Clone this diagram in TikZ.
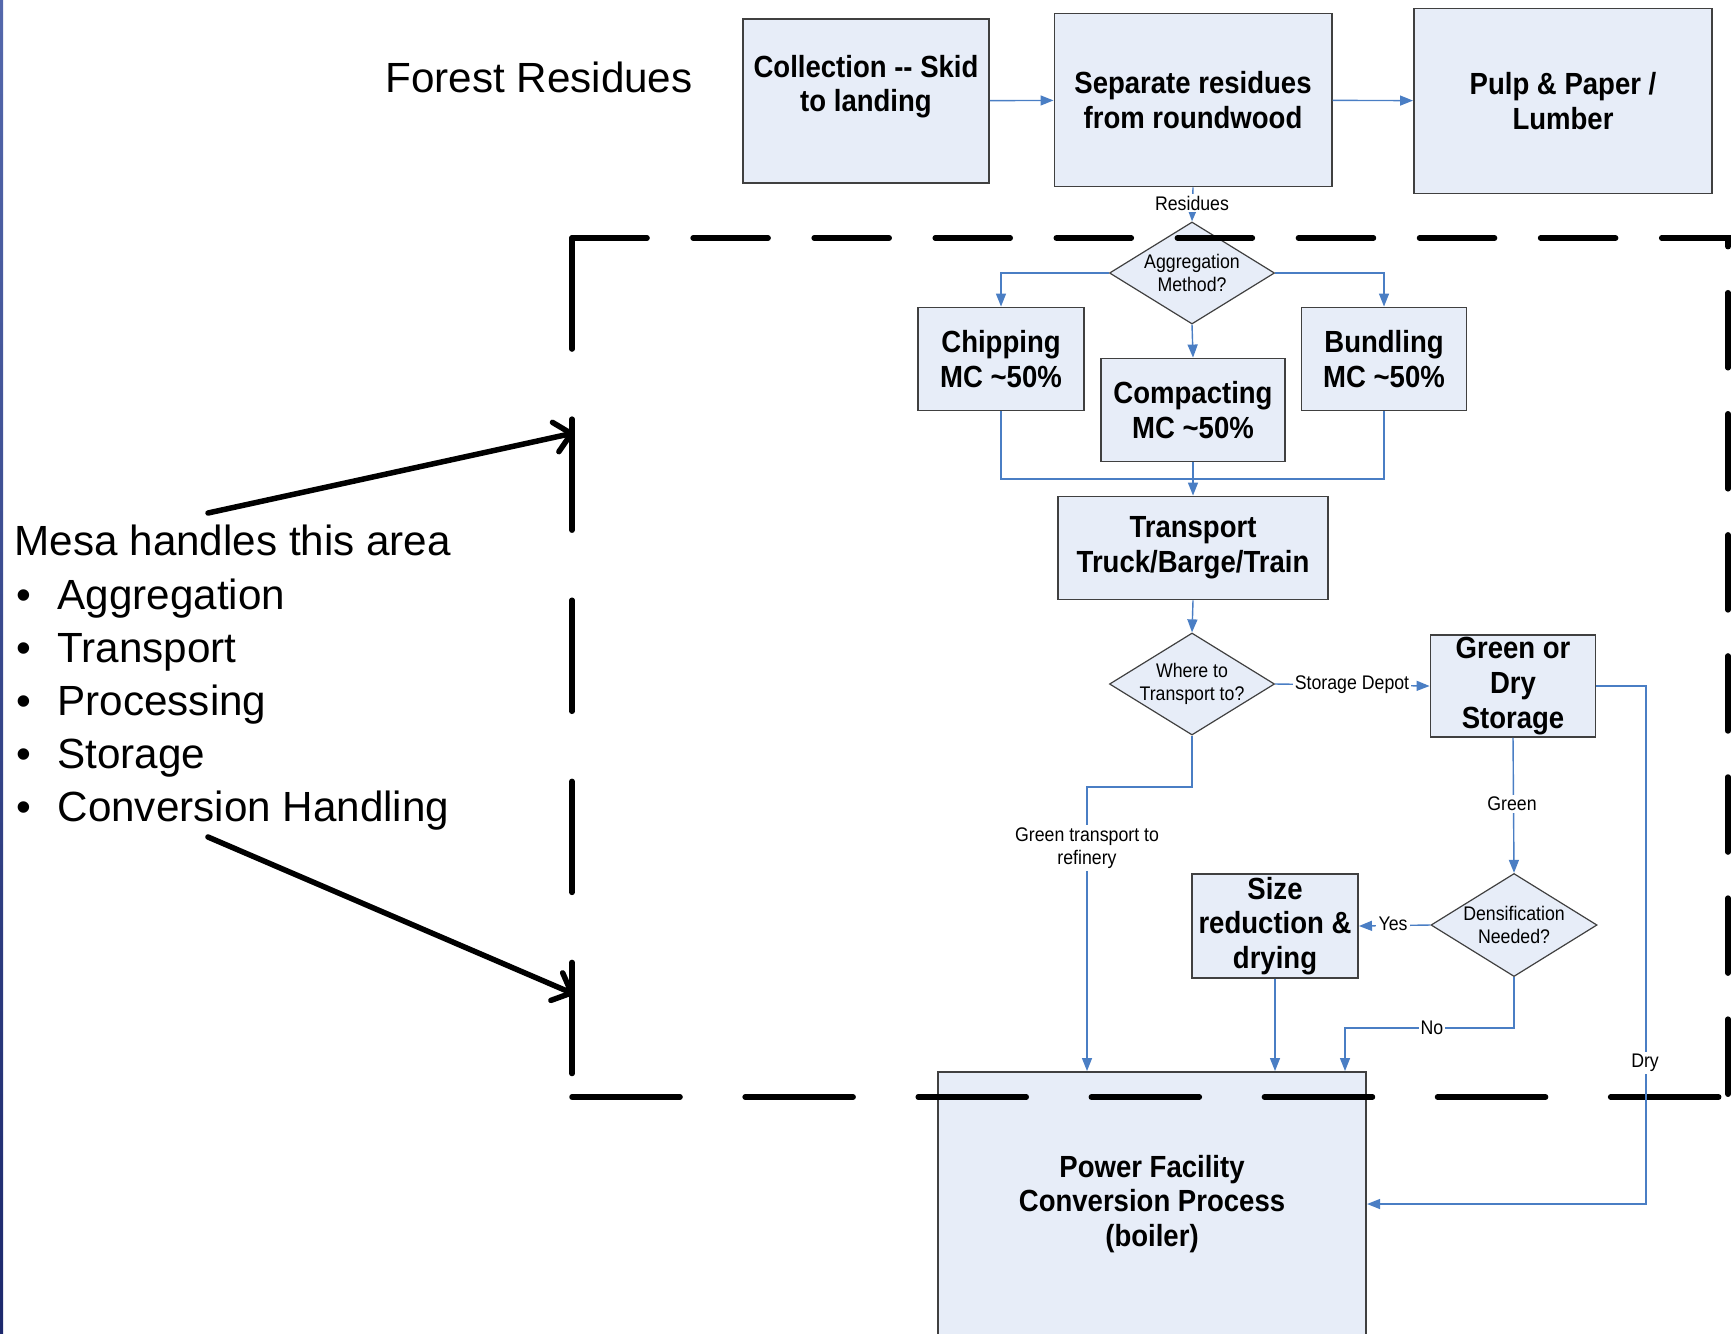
\documentclass[tikz,border=0pt]{standalone}
\usepackage{fontspec}
\setmainfont{Liberation Sans}
\newfontfamily\narrowfont{Liberation Sans}[FakeStretch=0.9]
\usetikzlibrary{shapes.geometric,arrows.meta}

\definecolor{boxfill}{RGB}{231,237,248}
\definecolor{boxline}{RGB}{64,64,64}
\definecolor{flowblue}{RGB}{74,126,196}
\definecolor{striptop}{RGB}{84,104,172}
\definecolor{stripbottom}{RGB}{28,40,108}

\newcommand{\listdot}{\makebox[12.2pt][l]{\hspace{0.6pt}\textbullet}}

\tikzset{
	stepbox/.style={draw=boxline, line width=0.018cm, fill=boxfill, align=center, inner sep=0pt,
		font=\narrowfont\bfseries\fontsize{8.7}{9.9}\selectfont},
	choice/.style={diamond, draw=boxline, line width=0.012cm, fill=boxfill, align=center,
		inner sep=-1cm, minimum width=1.65cm, minimum height=1.02cm,
		font=\narrowfont\fontsize{5.6}{6.6}\selectfont},
	flow/.style={draw=flowblue, line width=0.014cm, -{Triangle[length=0.13cm,width=0.1cm]}},
	flowline/.style={draw=flowblue, line width=0.014cm},
	tag/.style={fill=white, inner sep=0.6pt, align=center, font=\narrowfont\fontsize{5.6}{6.6}\selectfont},
	bigtext/.style={font=\fontsize{12}{15}\selectfont, inner sep=0pt},
	border/.style={line width=0.055cm, line cap=round},
	pointer/.style={line width=0.055cm, line cap=round, -{Straight Barb[length=0.16cm,width=0.3cm,round]}}
}

\begin{document}
\begin{tikzpicture}[x=0.01cm, y=-0.01cm]

	\useasboundingbox (0,0) rectangle (1731,1333);
	\clip (0,0) rectangle (1731,1333);
	\shade[top color=striptop, bottom color=stripbottom] (0,0) rectangle (3,1333);

	% top row
	\node[bigtext] (forest) at (539,77) {Forest Residues};
	\node[stepbox, minimum width=2.46cm, minimum height=1.64cm, text depth=0.35cm] (collect) at (866,101) {Collection -{}- Skid\\to landing};
	\node[stepbox, minimum width=2.77cm, minimum height=1.73cm] (separate) at (1193,100) {Separate residues\\from roundwood};
	\node[stepbox, minimum width=2.98cm, minimum height=1.85cm] (pulp) at (1563,101) {Pulp \& Paper /\\Lumber};

	% aggregation
	\node[choice] (aggregate) at (1192,273) {Aggregation\\Method?};
	\node[stepbox, minimum width=1.66cm, minimum height=1.03cm] (chip) at (1001,359) {Chipping\\MC \textasciitilde50\%};
	\node[stepbox, minimum width=1.84cm, minimum height=1.03cm] (compact) at (1193,410) {Compacting\\MC \textasciitilde50\%};
	\node[stepbox, minimum width=1.65cm, minimum height=1.03cm] (bundle) at (1384,359) {Bundling\\MC \textasciitilde50\%};
	\node[stepbox, minimum width=2.70cm, minimum height=1.03cm] (transport) at (1193,548) {Transport\\Truck/Barge/Train};

	% storage and processing
	\node[choice] (where) at (1192,684) {Where to\\Transport to?};
	\node[stepbox, minimum width=1.65cm, minimum height=1.02cm] (storage) at (1513,686) {Green or\\Dry\\Storage};
	\node[choice, minimum width=1.66cm, minimum height=1.03cm] (densify) at (1514,925) {Densification\\Needed?};
	\node[stepbox, minimum width=1.66cm, minimum height=1.04cm] (size) at (1275,926) {Size\\reduction \&\\drying};
	\node[stepbox, minimum width=4.28cm, minimum height=2.64cm] (power) at (1152,1204) {Power Facility\\Conversion Process\\(boiler)};

	% area handled by Mesa
	\draw[border, dash pattern=on 0.75cm off 0.46cm] (572,238) -| (1728,1097);
	\draw[border, dash pattern=on 1.11cm off 0.70cm] (572,238) -- (572,1097);
	\draw[border, dash pattern=on 1.08cm off 0.65cm] (572,1097) -- (1728,1097);

	\node[bigtext, anchor=base west] (mesa) at (14,555) {Mesa handles this area};
	\node[bigtext, anchor=base west] (aggitem) at (14,609) {\listdot Aggregation};
	\node[bigtext, anchor=base west] (transitem) at (14,662) {\listdot Transport};
	\node[bigtext, anchor=base west] (procitem) at (14,715) {\listdot Processing};
	\node[bigtext, anchor=base west] (storitem) at (14,768) {\listdot Storage};
	\node[bigtext, anchor=base west] (convitem) at (14,821) {\listdot Conversion Handling};

	\coordinate (uppertail) at (208,513);
	\coordinate (areatop) at (574,433);
	\coordinate (lowertail) at (208,837);
	\coordinate (areabottom) at (574,994);
	\draw[pointer] (uppertail) -- (areatop);
	\draw[pointer] (lowertail) -- (areabottom);

	% connectors
	\draw[flow] (collect) -- (separate);
	\draw[flow] (separate) -- (pulp);
	\draw[flow] (separate.south) -- (aggregate.north);
	\draw[flow] (aggregate.west) -| (chip.north);
	\draw[flow] (aggregate.east) -| (bundle.north);
	\draw[flow] (aggregate.south) -- (compact.north);
	\coordinate (merge) at (1193,479);
	\draw[flowline] (chip.south) |- (merge);
	\draw[flowline] (bundle.south) |- (merge);
	\draw[flow] (compact.south) -- (transport.north);
	\draw[flow] (transport.south) -- (where.north);
	\draw[flow] (where.east) -- (storage.west);
	\coordinate (greenbend) at (1087,787);
	\draw[flow] (where.south) |- (greenbend) -- (greenbend |- power.north);
	\draw[flow] (storage.south) -- (densify.north);
	\draw[flow] (densify.west) -- (size.east);
	\coordinate (nobend) at (1345,1028);
	\draw[flow] (densify.south) |- (nobend) -- (nobend |- power.north);
	\draw[flow] (size.south) -- (size.south |- power.north);
	\coordinate (drybend) at (1646,1204);
	\draw[flow] (storage.east) -| (drybend) -- (power.east);

	\node[tag] (residues) at (1192,203) {Residues};
	\node[tag] (depot) at (1352,685) {Storage Depot};
	\node[tag] (refinery) at (1087,848) {Green transport to\\refinery};
	\node[tag] (greentag) at (1512,804) {Green};
	\node[tag] (yestag) at (1393,924) {Yes};
	\node[tag] (notag) at (1432,1028) {No};
	\node[tag] (drytag) at (1645,1063) {Dry};

\end{tikzpicture}
\end{document}
